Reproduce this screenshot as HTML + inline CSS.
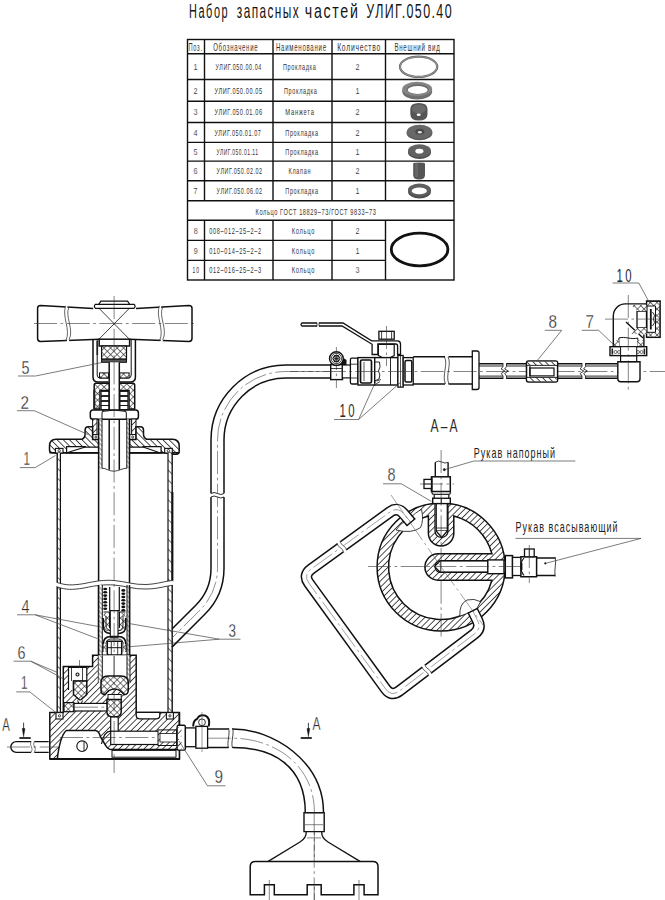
<!DOCTYPE html>
<html><head><meta charset="utf-8"><style>
html,body{margin:0;padding:0;background:#fff;}
svg{display:block;}
text{font-family:"Liberation Sans", sans-serif;}
text.big{stroke:#fff; stroke-width:0.3px;}
text.sm{stroke:#fff; stroke-width:0.12px;}
text.bign{}
text.smn{}
</style></head><body>
<svg width="665" height="900" viewBox="0 0 665 900">
<defs>
<pattern id="hs" patternUnits="userSpaceOnUse" width="4.4" height="4.4" patternTransform="rotate(45)">
<rect width="4.4" height="4.4" fill="#fff"/><line x1="2.2" y1="0" x2="2.2" y2="4.4" stroke="#222" stroke-width="0.8"/></pattern>
<pattern id="hs2" patternUnits="userSpaceOnUse" width="3.4" height="3.4" patternTransform="rotate(-45)">
<rect width="3.4" height="3.4" fill="#fff"/><line x1="1.7" y1="0" x2="1.7" y2="3.4" stroke="#333" stroke-width="0.6"/></pattern>
<pattern id="hb" patternUnits="userSpaceOnUse" width="4.4" height="4.4" patternTransform="rotate(-45)">
<rect width="4.4" height="4.4" fill="#fff"/><line x1="2.2" y1="0" x2="2.2" y2="4.4" stroke="#222" stroke-width="0.8"/></pattern>
<pattern id="hw" patternUnits="userSpaceOnUse" width="7" height="7" patternTransform="rotate(-45)">
<rect width="7" height="7" fill="#fff"/><line x1="3.5" y1="0" x2="3.5" y2="7" stroke="#333" stroke-width="0.7"/></pattern>
<pattern id="xh" patternUnits="userSpaceOnUse" width="4.6" height="4.6" patternTransform="rotate(45)">
<rect width="4.6" height="4.6" fill="#fff"/><line x1="2.3" y1="0" x2="2.3" y2="4.6" stroke="#222" stroke-width="0.6"/><line x1="0" y1="2.3" x2="4.6" y2="2.3" stroke="#222" stroke-width="0.6"/></pattern>
</defs>
<rect width="665" height="900" fill="#fff"/>
<g transform="translate(189 18.4) scale(0.5526 1)"><text class="bign" x="0" y="0" font-size="19.8" text-anchor="start" fill="#151515" textLength="69.85" lengthAdjust="spacing" >Набор</text></g>
<g transform="translate(236.8 18.4) scale(0.5991 1)"><text class="bign" x="0" y="0" font-size="19.8" text-anchor="start" fill="#151515" textLength="103.32" lengthAdjust="spacing" >запасных</text></g>
<g transform="translate(304.8 18.4) scale(0.7178 1)"><text class="bign" x="0" y="0" font-size="19.8" text-anchor="start" fill="#151515" textLength="73.98" lengthAdjust="spacing" >частей</text></g>
<g transform="translate(366.3 18.4) scale(0.6312 1)"><text class="bign" x="0" y="0" font-size="19.8" text-anchor="start" fill="#151515" textLength="135.13" lengthAdjust="spacing" >УЛИГ.050.40</text></g>
<rect x="187.5" y="39.5" width="266.5" height="240.5" fill="none" stroke="#111" stroke-width="1.4"/>
<line x1="187.5" y1="53.7" x2="454" y2="53.7" stroke="#111" stroke-width="1.4" />
<line x1="187.5" y1="79.5" x2="454" y2="79.5" stroke="#111" stroke-width="1.4" />
<line x1="187.5" y1="101.2" x2="454" y2="101.2" stroke="#111" stroke-width="1.4" />
<line x1="187.5" y1="122.5" x2="454" y2="122.5" stroke="#111" stroke-width="1.4" />
<line x1="187.5" y1="142.4" x2="454" y2="142.4" stroke="#111" stroke-width="1.4" />
<line x1="187.5" y1="161.1" x2="454" y2="161.1" stroke="#111" stroke-width="1.4" />
<line x1="187.5" y1="180.8" x2="454" y2="180.8" stroke="#111" stroke-width="1.4" />
<line x1="187.5" y1="200.7" x2="454" y2="200.7" stroke="#111" stroke-width="1.4" />
<line x1="187.5" y1="220.2" x2="454" y2="220.2" stroke="#111" stroke-width="1.4" />
<line x1="187.5" y1="240.4" x2="385.5" y2="240.4" stroke="#111" stroke-width="1.4" />
<line x1="187.5" y1="260.4" x2="385.5" y2="260.4" stroke="#111" stroke-width="1.4" />
<line x1="204.5" y1="39.5" x2="204.5" y2="200.7" stroke="#111" stroke-width="1.4" />
<line x1="204.5" y1="220.2" x2="204.5" y2="280" stroke="#111" stroke-width="1.4" />
<line x1="273" y1="39.5" x2="273" y2="200.7" stroke="#111" stroke-width="1.4" />
<line x1="273" y1="220.2" x2="273" y2="280" stroke="#111" stroke-width="1.4" />
<line x1="332" y1="39.5" x2="332" y2="200.7" stroke="#111" stroke-width="1.4" />
<line x1="332" y1="220.2" x2="332" y2="280" stroke="#111" stroke-width="1.4" />
<line x1="385.5" y1="39.5" x2="385.5" y2="200.7" stroke="#111" stroke-width="1.4" />
<line x1="385.5" y1="220.2" x2="385.5" y2="280" stroke="#111" stroke-width="1.4" />
<g transform="translate(188.4 51.3) scale(0.5440 1)"><text class="smn" x="0" y="0" font-size="10.5" text-anchor="start" fill="#333" textLength="25.00" lengthAdjust="spacing" >Поз.</text></g>
<g transform="translate(213.2 51.3) scale(0.5744 1)"><text class="smn" x="0" y="0" font-size="10.5" text-anchor="start" fill="#333" textLength="77.30" lengthAdjust="spacing" >Обозначение</text></g>
<g transform="translate(276 51.3) scale(0.5771 1)"><text class="smn" x="0" y="0" font-size="10.5" text-anchor="start" fill="#333" textLength="86.65" lengthAdjust="spacing" >Наименование</text></g>
<g transform="translate(337.2 51.3) scale(0.6406 1)"><text class="smn" x="0" y="0" font-size="10.5" text-anchor="start" fill="#333" textLength="67.12" lengthAdjust="spacing" >Количество</text></g>
<g transform="translate(394.4 51.3) scale(0.5873 1)"><text class="smn" x="0" y="0" font-size="10.5" text-anchor="start" fill="#333" textLength="77.47" lengthAdjust="spacing" >Внешний вид</text></g>
<text class="sm" x="195.6" y="69.8" font-size="9.2" text-anchor="middle" fill="#333" textLength="4" lengthAdjust="spacingAndGlyphs" >1</text>
<g transform="translate(215.5 69.8) scale(0.5858 1)"><text class="smn" x="0" y="0" font-size="9.2" text-anchor="start" fill="#333" textLength="78.01" lengthAdjust="spacing" >УЛИГ.050.00.04</text></g>
<g transform="translate(283 69.8) scale(0.5968 1)"><text class="smn" x="0" y="0" font-size="9.2" text-anchor="start" fill="#333" textLength="54.96" lengthAdjust="spacing" >Прокладка</text></g>
<text class="sm" x="357.5" y="69.8" font-size="9.2" text-anchor="middle" fill="#333" textLength="4" lengthAdjust="spacingAndGlyphs" >2</text>
<text class="sm" x="195.6" y="93.55" font-size="9.2" text-anchor="middle" fill="#333" textLength="4" lengthAdjust="spacingAndGlyphs" >2</text>
<g transform="translate(214.5 93.55) scale(0.6102 1)"><text class="smn" x="0" y="0" font-size="9.2" text-anchor="start" fill="#333" textLength="78.01" lengthAdjust="spacing" >УЛИГ.050.00.05</text></g>
<g transform="translate(284 93.55) scale(0.5968 1)"><text class="smn" x="0" y="0" font-size="9.2" text-anchor="start" fill="#333" textLength="54.96" lengthAdjust="spacing" >Прокладка</text></g>
<text class="sm" x="357.5" y="93.55" font-size="9.2" text-anchor="middle" fill="#333" textLength="4" lengthAdjust="spacingAndGlyphs" >1</text>
<text class="sm" x="195.6" y="115.05" font-size="9.2" text-anchor="middle" fill="#333" textLength="4" lengthAdjust="spacingAndGlyphs" >3</text>
<g transform="translate(214.5 115.05) scale(0.6089 1)"><text class="smn" x="0" y="0" font-size="9.2" text-anchor="start" fill="#333" textLength="78.01" lengthAdjust="spacing" >УЛИГ.050.01.06</text></g>
<g transform="translate(285.3 115.05) scale(0.6297 1)"><text class="smn" x="0" y="0" font-size="9.2" text-anchor="start" fill="#333" textLength="45.42" lengthAdjust="spacing" >Манжета</text></g>
<text class="sm" x="357.5" y="115.05" font-size="9.2" text-anchor="middle" fill="#333" textLength="4" lengthAdjust="spacingAndGlyphs" >2</text>
<text class="sm" x="195.6" y="135.64999999999998" font-size="9.2" text-anchor="middle" fill="#333" textLength="4" lengthAdjust="spacingAndGlyphs" >4</text>
<g transform="translate(214.5 135.64999999999998) scale(0.5935 1)"><text class="smn" x="0" y="0" font-size="9.2" text-anchor="start" fill="#333" textLength="78.01" lengthAdjust="spacing" >УЛИГ.050.01.07</text></g>
<g transform="translate(285.3 135.64999999999998) scale(0.5950 1)"><text class="smn" x="0" y="0" font-size="9.2" text-anchor="start" fill="#333" textLength="54.96" lengthAdjust="spacing" >Прокладка</text></g>
<text class="sm" x="357.5" y="135.64999999999998" font-size="9.2" text-anchor="middle" fill="#333" textLength="4" lengthAdjust="spacingAndGlyphs" >2</text>
<text class="sm" x="195.6" y="154.95" font-size="9.2" text-anchor="middle" fill="#333" textLength="4" lengthAdjust="spacingAndGlyphs" >5</text>
<g transform="translate(216.6 154.95) scale(0.5350 1)"><text class="smn" x="0" y="0" font-size="9.2" text-anchor="start" fill="#333" textLength="77.20" lengthAdjust="spacing" >УЛИГ.050.01.11</text></g>
<g transform="translate(285.3 154.95) scale(0.5950 1)"><text class="smn" x="0" y="0" font-size="9.2" text-anchor="start" fill="#333" textLength="54.96" lengthAdjust="spacing" >Прокладка</text></g>
<text class="sm" x="357.5" y="154.95" font-size="9.2" text-anchor="middle" fill="#333" textLength="4" lengthAdjust="spacingAndGlyphs" >1</text>
<text class="sm" x="195.6" y="174.14999999999998" font-size="9.2" text-anchor="middle" fill="#333" textLength="4" lengthAdjust="spacingAndGlyphs" >6</text>
<g transform="translate(216.6 174.14999999999998) scale(0.5832 1)"><text class="smn" x="0" y="0" font-size="9.2" text-anchor="start" fill="#333" textLength="78.01" lengthAdjust="spacing" >УЛИГ.050.02.02</text></g>
<g transform="translate(288.6 174.14999999999998) scale(0.5930 1)"><text class="smn" x="0" y="0" font-size="9.2" text-anchor="start" fill="#333" textLength="36.93" lengthAdjust="spacing" >Клапан</text></g>
<text class="sm" x="357.5" y="174.14999999999998" font-size="9.2" text-anchor="middle" fill="#333" textLength="4" lengthAdjust="spacingAndGlyphs" >2</text>
<text class="sm" x="195.6" y="193.95" font-size="9.2" text-anchor="middle" fill="#333" textLength="4" lengthAdjust="spacingAndGlyphs" >7</text>
<g transform="translate(216.6 193.95) scale(0.5832 1)"><text class="smn" x="0" y="0" font-size="9.2" text-anchor="start" fill="#333" textLength="78.01" lengthAdjust="spacing" >УЛИГ.050.06.02</text></g>
<g transform="translate(285.3 193.95) scale(0.5950 1)"><text class="smn" x="0" y="0" font-size="9.2" text-anchor="start" fill="#333" textLength="54.96" lengthAdjust="spacing" >Прокладка</text></g>
<text class="sm" x="357.5" y="193.95" font-size="9.2" text-anchor="middle" fill="#333" textLength="4" lengthAdjust="spacingAndGlyphs" >1</text>
<g transform="translate(255.5 214.7) scale(0.6130 1)"><text class="smn" x="0" y="0" font-size="9.2" text-anchor="start" fill="#333" textLength="196.24" lengthAdjust="spacing" >Кольцо ГОСТ 18829–73/ГОСТ 9833–73</text></g>
<text class="sm" x="195.8" y="233.5" font-size="9.2" text-anchor="middle" fill="#333" textLength="4" lengthAdjust="spacingAndGlyphs" >8</text>
<g transform="translate(209.2 233.5) scale(0.6075 1)"><text class="smn" x="0" y="0" font-size="9.2" text-anchor="start" fill="#333" textLength="85.27" lengthAdjust="spacing" >008–012–25–2–2</text></g>
<g transform="translate(291.7 233.5) scale(0.6181 1)"><text class="smn" x="0" y="0" font-size="9.2" text-anchor="start" fill="#333" textLength="36.57" lengthAdjust="spacing" >Кольцо</text></g>
<text class="sm" x="357.5" y="233.5" font-size="9.2" text-anchor="middle" fill="#333" textLength="4" lengthAdjust="spacingAndGlyphs" >2</text>
<text class="sm" x="195.8" y="253.59999999999997" font-size="9.2" text-anchor="middle" fill="#333" textLength="4" lengthAdjust="spacingAndGlyphs" >9</text>
<g transform="translate(209.2 253.59999999999997) scale(0.6075 1)"><text class="smn" x="0" y="0" font-size="9.2" text-anchor="start" fill="#333" textLength="85.27" lengthAdjust="spacing" >010–014–25–2–2</text></g>
<g transform="translate(291.7 253.59999999999997) scale(0.6181 1)"><text class="smn" x="0" y="0" font-size="9.2" text-anchor="start" fill="#333" textLength="36.57" lengthAdjust="spacing" >Кольцо</text></g>
<text class="sm" x="357.5" y="253.59999999999997" font-size="9.2" text-anchor="middle" fill="#333" textLength="4" lengthAdjust="spacingAndGlyphs" >1</text>
<g transform="translate(195.8 273.4) scale(0.5336 1)"><text class="smn" x="0" y="0" font-size="9.2" text-anchor="middle" fill="#333" textLength="12.18" lengthAdjust="spacing" >10</text></g>
<g transform="translate(209.2 273.4) scale(0.6075 1)"><text class="smn" x="0" y="0" font-size="9.2" text-anchor="start" fill="#333" textLength="85.27" lengthAdjust="spacing" >012–016–25–2–3</text></g>
<g transform="translate(291.7 273.4) scale(0.6181 1)"><text class="smn" x="0" y="0" font-size="9.2" text-anchor="start" fill="#333" textLength="36.57" lengthAdjust="spacing" >Кольцо</text></g>
<text class="sm" x="357.5" y="273.4" font-size="9.2" text-anchor="middle" fill="#333" textLength="4" lengthAdjust="spacingAndGlyphs" >3</text>
<g>
<ellipse cx="418.6" cy="66.8" rx="18.6" ry="10.1" fill="none" stroke="#666" stroke-width="2.2"/><ellipse cx="418.6" cy="66.8" rx="18.6" ry="10.1" fill="none" stroke="#999" stroke-width="1"/>
<ellipse cx="417.2" cy="91.5" rx="15" ry="8" fill="#6e6e6e"/>
<ellipse cx="417.2" cy="89" rx="15" ry="7.2" fill="#858585"/>
<ellipse cx="417.7" cy="89.2" rx="11" ry="5" fill="#6a6a6a"/>
<ellipse cx="417.7" cy="90" rx="10" ry="3.9" fill="#fff"/>
<path d="M410.3 109 Q410.3 103 418.9 103 Q427.5 103 427.5 109 L427.5 114 Q427.5 120.6 418.9 120.6 Q410.3 120.6 410.3 114 Z" fill="#555"/>
<ellipse cx="418.9" cy="109" rx="7" ry="4.5" fill="#6a6a6a"/>
<ellipse cx="418.7" cy="114.8" rx="2" ry="1.2" fill="#fff"/>
<ellipse cx="419.5" cy="132.8" rx="13" ry="7.5" fill="#5a5a5a"/>
<ellipse cx="419.5" cy="131.8" rx="12.5" ry="7" fill="#686868"/>
<ellipse cx="419.8" cy="131.8" rx="4.5" ry="3" fill="#4a4a4a"/>
<ellipse cx="419.8" cy="132.3" rx="2.2" ry="1.2" fill="#ddd"/>
<ellipse cx="419.5" cy="152.5" rx="11.5" ry="6.5" fill="#4e4e4e"/>
<ellipse cx="419.5" cy="150.8" rx="11.5" ry="6.5" fill="#626262"/>
<ellipse cx="419.4" cy="151.2" rx="4" ry="2.4" fill="#fff"/>
<path d="M413.2 163.5 Q413.2 162.5 419.1 162.5 Q425 162.5 425 163.5 L425 175 Q425 179.5 419.1 179.5 Q413.2 179.5 413.2 175 Z" fill="#555"/>
<rect x="415" y="163" width="3" height="14" fill="#666"/>
<ellipse cx="419.5" cy="191.5" rx="11.5" ry="7" fill="#4e4e4e"/>
<ellipse cx="419.5" cy="190" rx="11.5" ry="6.5" fill="#5e5e5e"/>
<ellipse cx="419.3" cy="190.9" rx="7.6" ry="3.3" fill="#fff"/>
<ellipse cx="419.6" cy="249.5" rx="28.3" ry="16.3" fill="none" stroke="#111" stroke-width="2.8"/>
</g>
<path d="M93.2 308.4 L40.5 305.4 Q37.6 305.4 37.6 308.3 L37.6 338.5 Q37.6 341.4 40.5 341.4 L99.2 339.2" fill="#fff" stroke="#111" stroke-width="1.5" />
<path d="M136 308.4 L189 305.4 Q192 305.4 192 308.3 L192 338.5 Q192 341.4 189 341.4 L129.6 339.2" fill="#fff" stroke="#111" stroke-width="1.5" />
<path d="M66.3 303 C61.3 316, 71.3 330, 66.3 343 L68.5 343 C73.5 330, 63.5 316, 68.5 303 Z" fill="#fff"/>
<path d="M65.8 305.8 C61.3 316, 71.3 330, 65.8 340.8" fill="none" stroke="#333" stroke-width="0.75" />
<path d="M69.0 307.1 C64.5 316, 74.5 330, 69.0 339.8" fill="none" stroke="#333" stroke-width="0.75" />
<path d="M160.0 303 C155.0 316, 165.0 330, 160.0 343 L162.2 343 C167.2 330, 157.2 316, 162.2 303 Z" fill="#fff"/>
<path d="M159.5 305.8 C155.0 316, 165.0 330, 159.5 340.8" fill="none" stroke="#333" stroke-width="0.75" />
<path d="M162.7 307.1 C158.2 316, 168.2 330, 162.7 339.8" fill="none" stroke="#333" stroke-width="0.75" />
<line x1="99.20" y1="308.50" x2="129.20" y2="339.00" stroke="#111" stroke-width="0.8" />
<line x1="129.20" y1="308.50" x2="99.20" y2="339.00" stroke="#111" stroke-width="0.8" />
<path d="M95.5 304.3 L134 304.3 Q136.2 306.3 134 308.4 L95.5 308.4 Q93.2 306.3 95.5 304.3 Z" fill="#fff" stroke="#111" stroke-width="1.2" />
<path d="M98.8 304.3 L100.8 301.2 L127.6 301.2 L129.6 304.3" fill="none" stroke="#111" stroke-width="1.2" />
<rect x="99.20" y="339.20" width="30.40" height="6.80" fill="#fff" stroke="#111" stroke-width="1.5" />
<path d="M93 339.5 L93 377 Q93 382 98 382 L108.6 382" fill="none" stroke="#111" stroke-width="1.5" />
<path d="M97.2 339.5 L97.2 375 Q97.2 378 100 378 L108.6 378" fill="none" stroke="#111" stroke-width="1.0" />
<path d="M135.4 339.5 L135.4 377 Q135.4 382 130.4 382 L119.8 382" fill="none" stroke="#111" stroke-width="1.5" />
<path d="M131.2 339.5 L131.2 375 Q131.2 378 128.4 378 L119.8 378" fill="none" stroke="#111" stroke-width="1.0" />
<rect x="96.5" y="341" width="1.6" height="14" fill="#222"/>
<rect x="101.60" y="346.00" width="24.90" height="13.20" fill="url(#xh)" stroke="#111" stroke-width="1.2" />
<rect x="101.60" y="359.20" width="24.90" height="3.10" fill="#555" stroke="#111" stroke-width="1.0" />
<rect x="99.50" y="372.90" width="9.10" height="5.10" fill="url(#xh)" stroke="#111" stroke-width="1.0" />
<rect x="119.80" y="372.90" width="9.30" height="5.10" fill="url(#xh)" stroke="#111" stroke-width="1.0" />
<path d="M94.2 409 L94.2 385 Q94.2 383.2 96 383.2 L132.9 383.2 Q134.7 383.2 134.7 385 L134.7 409 L129 409 L129 390.5 L100 390.5 L100 409 Z" fill="url(#xh)" stroke="#111" stroke-width="1.5" />
<rect x="93.3" y="390" width="2" height="19" fill="#222"/>
<rect x="101.20" y="391.50" width="7.80" height="4.00" fill="#fff" stroke="#111" stroke-width="0.9" />
<rect x="120.00" y="391.50" width="7.80" height="4.00" fill="#fff" stroke="#111" stroke-width="0.9" />
<rect x="101.20" y="396.50" width="7.80" height="4.00" fill="#fff" stroke="#111" stroke-width="0.9" />
<rect x="120.00" y="396.50" width="7.80" height="4.00" fill="#fff" stroke="#111" stroke-width="0.9" />
<rect x="101.20" y="401.50" width="7.80" height="4.00" fill="#fff" stroke="#111" stroke-width="0.9" />
<rect x="120.00" y="401.50" width="7.80" height="4.00" fill="#fff" stroke="#111" stroke-width="0.9" />
<rect x="101.20" y="405.50" width="7.80" height="4.00" fill="#fff" stroke="#111" stroke-width="0.9" />
<rect x="120.00" y="405.50" width="7.80" height="4.00" fill="#fff" stroke="#111" stroke-width="0.9" />
<rect x="109.20" y="362.30" width="10.10" height="106.70" fill="#fff" stroke="#111" stroke-width="0" />
<line x1="109.20" y1="362.30" x2="109.20" y2="469.80" stroke="#111" stroke-width="1.5" />
<line x1="119.30" y1="362.30" x2="119.30" y2="469.80" stroke="#111" stroke-width="1.5" />
<path d="M92.5 410 L136.2 410 Q138.4 410.5 138.4 413 L138.4 416.5 Q138.4 419.3 136 419.3 L92.7 419.3 Q90.3 419.3 90.3 416.5 L90.3 413 Q90.3 410.5 92.5 410 Z" fill="#fff" stroke="#111" stroke-width="1.5" />
<path d="M102 419.3 L102 413 Q102 410.6 104 410.6 M126.3 419.3 L126.3 413 Q126.3 410.6 124.3 410.6" fill="none" stroke="#111" stroke-width="1.0" />
<path d="M102.5 411.5 Q114.2 408.6 125.8 411.5" fill="none" stroke="#111" stroke-width="0.9" />
<rect x="92.60" y="419.00" width="4.40" height="15.60" fill="url(#hs)" stroke="#111" stroke-width="1.0" />
<rect x="131.60" y="419.00" width="4.40" height="15.60" fill="url(#hs)" stroke="#111" stroke-width="1.0" />
<rect x="92.60" y="434.60" width="6.60" height="4.90" fill="#fff" stroke="#111" stroke-width="1.0" />
<circle cx="95.9" cy="437" r="1.0" fill="none" stroke="#111" stroke-width="0.8"/>
<rect x="129.40" y="434.60" width="6.60" height="4.90" fill="#fff" stroke="#111" stroke-width="1.0" />
<circle cx="132.7" cy="437" r="1.0" fill="none" stroke="#111" stroke-width="0.8"/>
<path d="M49.5 446 Q49.5 439.2 56 439.2 L82 439.2 Q85.1 438 85.1 434 L85.1 430 Q85.1 426.8 88.3 426.8 L92.6 426.8 L92.6 439.5 L98.6 439.5 L98.6 452.8 L52.5 452.8 Q49.5 452.8 49.5 450 Z" fill="url(#hb)" stroke="#111" stroke-width="1.5" />
<path d="M179.2 446 Q179.2 439.2 172.7 439.2 L146.6 439.2 Q143.5 438 143.5 434 L143.5 430 Q143.5 426.8 140.3 426.8 L136 426.8 L136 439.5 L129.5 439.5 L129.5 452.8 L172.8 452.8 L172.8 454.3 L176.2 454.3 Q179.2 454.3 179.2 451.3 Z" fill="url(#hb)" stroke="#111" stroke-width="1.5" />
<path d="M66.6 452.8 L66.6 446.6 L85.3 446.6 L85.3 447.2 L98.6 447.2 L98.6 452.8 Z" fill="#fff" stroke="#111" stroke-width="1.2" />
<line x1="85.30" y1="447.00" x2="68.40" y2="452.30" stroke="#111" stroke-width="1.1" />
<path d="M161.1 452.8 L161.1 446.6 L143 446.6 L143 447.2 L129.5 447.2 L129.5 452.8 Z" fill="#fff" stroke="#111" stroke-width="1.2" />
<line x1="143.00" y1="447.00" x2="158.40" y2="452.30" stroke="#111" stroke-width="1.1" />
<line x1="49.50" y1="452.80" x2="98.60" y2="452.80" stroke="#111" stroke-width="1.5" />
<line x1="129.50" y1="452.80" x2="179.20" y2="452.80" stroke="#111" stroke-width="1.5" />
<rect x="55.40" y="448.40" width="7.60" height="4.60" fill="#fff" stroke="#111" stroke-width="1.1" />
<circle cx="59.199999999999996" cy="450.7" r="1.2" fill="none" stroke="#111" stroke-width="0.8"/>
<rect x="164.70" y="448.40" width="7.60" height="4.60" fill="#fff" stroke="#111" stroke-width="1.1" />
<circle cx="168.5" cy="450.7" r="1.2" fill="none" stroke="#111" stroke-width="0.8"/>
<rect x="57.20" y="453.00" width="3.20" height="259.40" fill="url(#hw)" stroke="#111" stroke-width="0" />
<rect x="168.00" y="453.00" width="4.20" height="259.40" fill="url(#hw)" stroke="#111" stroke-width="0" />
<line x1="57.20" y1="453.00" x2="57.20" y2="712.40" stroke="#111" stroke-width="1.4" />
<line x1="60.40" y1="453.00" x2="60.40" y2="712.40" stroke="#111" stroke-width="1.2" />
<line x1="168.00" y1="453.00" x2="168.00" y2="712.60" stroke="#111" stroke-width="1.2" />
<line x1="172.20" y1="453.00" x2="172.20" y2="712.60" stroke="#111" stroke-width="1.4" />
<rect x="171.4" y="492" width="2" height="90" fill="#111"/>
<rect x="98.60" y="419.00" width="3.40" height="49.50" fill="url(#hs2)" stroke="#111" stroke-width="0" />
<rect x="126.80" y="419.00" width="2.70" height="49.50" fill="url(#hs2)" stroke="#111" stroke-width="0" />
<line x1="98.60" y1="419.00" x2="98.60" y2="683.00" stroke="#111" stroke-width="1.5" />
<line x1="102.00" y1="419.00" x2="102.00" y2="468.50" stroke="#111" stroke-width="1.0" />
<line x1="126.80" y1="419.00" x2="126.80" y2="468.50" stroke="#111" stroke-width="1.0" />
<line x1="129.50" y1="419.00" x2="129.50" y2="683.00" stroke="#111" stroke-width="1.5" />
<path d="M102 468.2 C106 468, 109 471.5, 114.2 471.2 C119 471, 123 468, 126.8 468.2" fill="none" stroke="#111" stroke-width="0.8" />
<path d="M56 582 C66 585.5, 72 585.5, 84 583.6 C96 581, 104 579.8, 114 580.5 C126 581.5, 134 585, 146 584.5 C158 584, 165 581, 173.5 580.3 L173.5 585.3 C165 586, 158 589, 146 589 C134 589.5, 126 586, 114 585 C104 584.3, 96 585.5, 84 588 C72 590, 66 590, 56 586.5 Z" fill="#fff"/>
<path d="M56.5 582.3 C66 585.5, 72 585.5, 84 583.6 C96 581, 104 579.8, 114 580.5 C126 581.5, 134 585, 146 584.5 C158 584, 165 581, 173 580.5" fill="none" stroke="#111" stroke-width="0.8" />
<path d="M56.5 586.7 C66 590, 72 590, 84 588 C96 585.5, 104 584.3, 114 585 C126 586, 134 589.5, 146 589 C158 589, 165 586, 173 585.3" fill="none" stroke="#111" stroke-width="0.8" />
<rect x="98.60" y="585.00" width="3.70" height="98.00" fill="url(#hs2)" stroke="#111" stroke-width="0" />
<rect x="127.00" y="585.00" width="2.50" height="98.00" fill="url(#hs2)" stroke="#111" stroke-width="0" />
<line x1="98.60" y1="585.00" x2="98.60" y2="683.00" stroke="#111" stroke-width="1.5" />
<line x1="102.30" y1="585.00" x2="102.30" y2="683.00" stroke="#111" stroke-width="1.0" />
<line x1="127.00" y1="585.00" x2="127.00" y2="683.00" stroke="#111" stroke-width="1.0" />
<line x1="129.50" y1="585.00" x2="129.50" y2="683.00" stroke="#111" stroke-width="1.5" />
<path d="M109.7 587 L109.7 610.7 L119.3 610.7 L119.3 587" fill="#fff" stroke="#111" stroke-width="1.2" />
<ellipse cx="105.2" cy="589.0" rx="2" ry="1.3" fill="#111"/>
<ellipse cx="123.3" cy="590.4" rx="2" ry="1.3" fill="#111"/>
<ellipse cx="105.2" cy="592.3" rx="2" ry="1.3" fill="#111"/>
<ellipse cx="123.3" cy="593.6999999999999" rx="2" ry="1.3" fill="#111"/>
<ellipse cx="105.2" cy="595.6" rx="2" ry="1.3" fill="#111"/>
<ellipse cx="123.3" cy="597.0" rx="2" ry="1.3" fill="#111"/>
<ellipse cx="105.2" cy="598.9" rx="2" ry="1.3" fill="#111"/>
<ellipse cx="123.3" cy="600.3" rx="2" ry="1.3" fill="#111"/>
<ellipse cx="105.2" cy="602.2" rx="2" ry="1.3" fill="#111"/>
<ellipse cx="123.3" cy="603.6" rx="2" ry="1.3" fill="#111"/>
<ellipse cx="105.2" cy="605.5" rx="2" ry="1.3" fill="#111"/>
<ellipse cx="123.3" cy="606.9" rx="2" ry="1.3" fill="#111"/>
<ellipse cx="105.2" cy="608.8" rx="2" ry="1.3" fill="#111"/>
<ellipse cx="123.3" cy="610.1999999999999" rx="2" ry="1.3" fill="#111"/>
<path d="M103.5 612 L109.5 612 L109.5 628 M119.5 628 L119.5 612 L125.5 612" fill="none" stroke="#111" stroke-width="1.2" />
<path d="M104 613 L109 613 L109 627 Q109 630 112 631 L104.5 631 Q103 626 103 620 Z" fill="url(#xh)"/>
<path d="M125 613 L120 613 L120 627 Q120 630 117 631 L124.5 631 Q126 626 126 620 Z" fill="url(#xh)"/>
<path d="M103.3 618 L103.3 626 Q103.3 633 110 633.5 L119 633.5 Q125.8 633 125.8 626 L125.8 618" fill="none" stroke="#111" stroke-width="1.6" />
<path d="M106 616 L106 625 Q106 630 111 631" fill="none" stroke="#111" stroke-width="0.9" />
<path d="M123 616 L123 625 Q123 630 118 631" fill="none" stroke="#111" stroke-width="0.9" />
<rect x="110.30" y="610.70" width="7.70" height="26.60" fill="#fff" stroke="#111" stroke-width="1.1" />
<path d="M103.3 652 L103.3 644 Q103.3 636.5 111 636.5 L118.3 636.5 Q125.8 636.5 125.8 644 L125.8 652" fill="none" stroke="#111" stroke-width="1.7" />
<path d="M105.8 652 L105.8 645 Q105.8 639 111 639 L118.3 639 Q123.3 639 123.3 645 L123.3 652" fill="none" stroke="#111" stroke-width="0.9" />
<rect x="103.5" y="644" width="2.2" height="8" fill="url(#xh)"/><rect x="123.4" y="644" width="2.2" height="8" fill="url(#xh)"/>
<path d="M107.3 641.3 L121.7 641.3 L121.7 653.5 Q121.7 655.3 119.5 655.3 L109.5 655.3 Q107.3 655.3 107.3 653.5 Z" fill="#fff" stroke="#111" stroke-width="1.5" />
<line x1="107.30" y1="647.70" x2="121.70" y2="647.70" stroke="#111" stroke-width="1.0" />
<line x1="111.30" y1="641.30" x2="111.30" y2="655.30" stroke="#111" stroke-width="0.8" />
<line x1="117.70" y1="641.30" x2="117.70" y2="655.30" stroke="#111" stroke-width="0.8" />
<path d="M49.8 712.4 L63.3 712.4 L63.3 666.5 L92.6 666.5 L92.6 655.3 L136.2 655.3 L136.2 712.4 L179.4 712.4 L179.4 759 L49.8 759 Z" fill="url(#hs)" stroke="#111" stroke-width="1.5" />
<rect x="98.60" y="655.30" width="31.10" height="20.70" fill="#fff" stroke="#111" stroke-width="0" />
<line x1="98.60" y1="655.30" x2="98.60" y2="683.00" stroke="#111" stroke-width="1.5" />
<line x1="129.70" y1="655.30" x2="129.70" y2="683.00" stroke="#111" stroke-width="1.5" />
<rect x="102.30" y="656.00" width="24.70" height="20.00" fill="#fff" stroke="#111" stroke-width="0.0" />
<line x1="114.10" y1="656.00" x2="114.10" y2="676.00" stroke="#333" stroke-width="0.6" stroke-dasharray="23 3.5 2.7 3.5"/>
<rect x="98.60" y="655.30" width="3.70" height="27.70" fill="url(#hs2)" stroke="#111" stroke-width="0" />
<rect x="127.00" y="655.30" width="2.50" height="27.70" fill="url(#hs2)" stroke="#111" stroke-width="0" />
<line x1="102.30" y1="655.30" x2="102.30" y2="683.00" stroke="#111" stroke-width="1.0" />
<line x1="127.00" y1="655.30" x2="127.00" y2="683.00" stroke="#111" stroke-width="1.0" />
<path d="M101 690 L101 683 Q101 676 108 676 L121 676 Q128.3 676 128.3 683 L128.3 690 Q128.3 694.7 124 694.7 Q120 689 114.6 689 Q109 689 105 694.7 Q101 694.7 101 690 Z" fill="url(#xh)" stroke="#111" stroke-width="1.5" />
<rect x="108.00" y="694.50" width="13.20" height="5.10" fill="#fff" stroke="#111" stroke-width="1.0" />
<path d="M106.9 699.6 L121.2 699.6 L121.2 712 Q121.2 717 114 717 Q106.9 717 106.9 712 Z" fill="url(#xh)" stroke="#111" stroke-width="1.5" />
<rect x="110.70" y="717.00" width="7.50" height="15.00" fill="#fff" stroke="#111" stroke-width="1.2" />
<path d="M68.5 690 L68.5 667.4 L86.8 667.4 L86.8 681 L73.5 681 L73.5 690" fill="#fff" stroke="#111" stroke-width="1.2" />
<line x1="71.50" y1="667.40" x2="71.50" y2="681.00" stroke="#111" stroke-width="0.8" />
<line x1="82.50" y1="667.40" x2="82.50" y2="681.00" stroke="#111" stroke-width="0.8" />
<circle cx="77.5" cy="674.5" r="1.5" fill="none" stroke="#111" stroke-width="1.1"/>
<line x1="79.50" y1="660.00" x2="79.50" y2="668.00" stroke="#333" stroke-width="0.6" stroke-dasharray="23 3.5 2.7 3.5"/>
<path d="M73.5 681 L86.8 681 L86.8 694.5 L80.1 700.5 L73.5 694.5 Z" fill="url(#xh)" stroke="#111" stroke-width="1.5" />
<path d="M77.5 700.5 L80.1 705.5 L82.7 700.5" fill="#fff" stroke="#111" stroke-width="1.0" />
<rect x="73.80" y="703.40" width="33.10" height="7.60" fill="#fff" stroke="#111" stroke-width="1.2" />
<line x1="75.00" y1="707.20" x2="106.00" y2="707.20" stroke="#333" stroke-width="0.6" stroke-dasharray="23 3.5 2.7 3.5"/>
<rect x="64.00" y="702.60" width="9.80" height="9.10" fill="url(#xh)" stroke="#111" stroke-width="1.2" />
<path d="M136.2 712.4 L159.8 712.4 L159.8 715.5 Q159.8 718.9 156 718.9 L140 718.9 Q136.2 718.9 136.2 715 Z" fill="#fff" stroke="#111" stroke-width="1.3" />
<rect x="56.00" y="712.60" width="7.00" height="6.40" fill="#fff" stroke="#111" stroke-width="1.1" />
<circle cx="59.5" cy="715.8" r="1.1" fill="none" stroke="#111" stroke-width="0.8"/>
<rect x="166.40" y="712.60" width="7.00" height="6.40" fill="#fff" stroke="#111" stroke-width="1.1" />
<circle cx="169.9" cy="715.8" r="1.1" fill="none" stroke="#111" stroke-width="0.8"/>
<path d="M57.3 759 Q60 736 66.3 730.5 L95.6 730.5 Q99 731 100.5 737 L106 746 Q108 749.5 112 749.5 L179.4 749.5 L179.4 759 Z" fill="#fff" stroke="#111" stroke-width="1.5" />
<circle cx="82.1" cy="746.2" r="5.3" fill="#fff" stroke="#111" stroke-width="1.1"/>
<line x1="84.00" y1="741.40" x2="84.00" y2="751.00" stroke="#111" stroke-width="0.9" />
<rect x="110.70" y="731.20" width="68.70" height="13.30" fill="#fff" stroke="#111" stroke-width="1.2" />
<path d="M101.5 744 Q104 731.2 110.7 731.2" fill="none" stroke="#111" stroke-width="1.2" />
<rect x="112.00" y="750.40" width="64.00" height="6.80" fill="#fff" stroke="#111" stroke-width="1.0" />
<line x1="49.80" y1="759.00" x2="179.40" y2="759.00" stroke="#111" stroke-width="2.2" />
<line x1="60.00" y1="737.50" x2="178.00" y2="737.50" stroke="#333" stroke-width="0.6" stroke-dasharray="23 3.5 2.7 3.5"/>
<rect x="158.00" y="729.90" width="18.50" height="15.60" fill="url(#hs)" stroke="#111" stroke-width="1.0" />
<rect x="160.00" y="733.50" width="16.50" height="8.50" fill="#fff" stroke="#111" stroke-width="0.8" />
<path d="M48.7 741.6 L34.3 741.6 M31.1 741.6 L16.2 741.6 A5.4 5.4 0 0 0 16.2 752.4 L31.1 752.4 M34.3 752.4 L48.7 752.4" fill="none" stroke="#111" stroke-width="1.4" />
<path d="M31.1 741.6 Q29.5 744 31.5 747 Q33 749.5 31.1 752.4 M34.3 741.6 Q32.7 744 34.7 747 Q36.2 749.5 34.3 752.4" fill="none" stroke="#444" stroke-width="0.7" />
<line x1="7.00" y1="747.00" x2="58.00" y2="747.00" stroke="#333" stroke-width="0.6" stroke-dasharray="23 3.5 2.7 3.5"/>
<path d="M179.4 712.4 L179.4 725.3" fill="none" stroke="#111" stroke-width="1.5" />
<path d="M178.5 725.3 L184 725.3 Q185.4 725.3 185.4 727 L185.4 748.4 Q185.4 750.1 184 750.1 L178.5 750.1 Q177.1 750.1 177.1 748.4 L177.1 727 Q177.1 725.3 178.5 725.3 Z" fill="#fff" stroke="#111" stroke-width="1.4" />
<rect x="178.00" y="727.00" width="3.50" height="9.50" fill="url(#hs)" stroke="#111" stroke-width="0" />
<rect x="178.00" y="739.00" width="3.50" height="10.00" fill="url(#hs)" stroke="#111" stroke-width="0" />
<rect x="185.40" y="727.90" width="10.50" height="18.80" fill="#fff" stroke="#111" stroke-width="1.3" />
<path d="M193.2 726.4 Q193.2 720.5 197 719 Q199 715.2 202.5 715.2 Q208.8 715.2 209.2 722 L208.8 726.4" fill="#fff" stroke="#111" stroke-width="2.0" />
<circle cx="202" cy="722.3" r="3.4" fill="#fff" stroke="#111" stroke-width="0.9"/>
<rect x="195.90" y="726.40" width="11.70" height="21.80" fill="#fff" stroke="#111" stroke-width="1.3" />
<line x1="202.00" y1="712.00" x2="202.00" y2="752.00" stroke="#555" stroke-width="0.6" />
<text class="big" x="21.5" y="374" font-size="19" fill="#2a2a2a" textLength="8" lengthAdjust="spacingAndGlyphs">5</text>
<path d="M18.00 376.00 L35.50 376.00 L102.00 362.50" fill="none" stroke="#444" stroke-width="0.7" />
<text class="big" x="20.5" y="408.6" font-size="19" fill="#2a2a2a" textLength="8.5" lengthAdjust="spacingAndGlyphs">2</text>
<path d="M17.00 410.70 L34.30 410.70 L88.40 434.70" fill="none" stroke="#444" stroke-width="0.7" />
<text class="big" x="23.5" y="465.4" font-size="19" fill="#2a2a2a" textLength="6.5" lengthAdjust="spacingAndGlyphs">1</text>
<path d="M19.80 467.60 L35.20 467.60 L55.50 455.50" fill="none" stroke="#444" stroke-width="0.7" />
<text class="big" x="21.5" y="612.5" font-size="19" fill="#2a2a2a" textLength="8" lengthAdjust="spacingAndGlyphs">4</text>
<path d="M17.00 614.80 L35.20 614.80 L98.30 626.50" fill="none" stroke="#444" stroke-width="0.7" />
<path d="M35.20 614.80 L97.40 638.60" fill="none" stroke="#444" stroke-width="0.7" />
<text class="big" x="17.5" y="658.5" font-size="19" fill="#2a2a2a" textLength="8" lengthAdjust="spacingAndGlyphs">6</text>
<path d="M13.50 661.20 L30.70 661.20 L57.00 672.30" fill="none" stroke="#444" stroke-width="0.7" />
<path d="M30.70 661.20 L63.50 678.80" fill="none" stroke="#444" stroke-width="0.7" />
<text class="big" x="21" y="689.2" font-size="19" fill="#2a2a2a" textLength="6.5" lengthAdjust="spacingAndGlyphs">1</text>
<path d="M16.20 691.90 L29.80 691.90 L56.00 712.60" fill="none" stroke="#444" stroke-width="0.7" />
<text class="big" x="2.3" y="730.7" font-size="19" fill="#2a2a2a" textLength="7.6" lengthAdjust="spacingAndGlyphs">A</text>
<line x1="23.60" y1="722.60" x2="23.60" y2="732.00" stroke="#111" stroke-width="0.8" />
<path d="M22.2 728.5 L23.6 736.8 L25 728.5 Z" fill="#111" stroke="#111" stroke-width="0.4" />
<line x1="19.40" y1="738.00" x2="30.70" y2="738.00" stroke="#111" stroke-width="1.7" />
<text class="big" x="228.6" y="636.6" font-size="19" fill="#2a2a2a" textLength="7.5" lengthAdjust="spacingAndGlyphs">3</text>
<path d="M240.50 639.20 L219.40 639.20 L130.00 623.70" fill="none" stroke="#444" stroke-width="0.7" />
<path d="M219.40 639.20 L130.00 646.70" fill="none" stroke="#444" stroke-width="0.7" />
<text class="big" x="214.5" y="783.3" font-size="19" fill="#2a2a2a" textLength="8.5" lengthAdjust="spacingAndGlyphs">9</text>
<path d="M225.50 785.80 L207.50 785.80 L179.00 741.00" fill="none" stroke="#444" stroke-width="0.7" />
<line x1="114.10" y1="296.00" x2="114.10" y2="773.00" stroke="#333" stroke-width="0.6" stroke-dasharray="23 3.5 2.7 3.5"/>
<line x1="34.00" y1="323.50" x2="196.00" y2="323.50" stroke="#333" stroke-width="0.6" stroke-dasharray="23 3.5 2.7 3.5"/>
<path d="M331 365 L286 365 A75 75 0 0 0 211 440 L211 568.5 A52 52 0 0 1 195.77 605.27 L172 629" fill="none" stroke="#111" stroke-width="1.5" />
<path d="M331 378 L286 378 A62 62 0 0 0 224 440 L224 568.5 A64.8 64.8 0 0 1 204.82 614.32 L172 647.1" fill="none" stroke="#111" stroke-width="1.5" />
<path d="M331 371.5 L286 371.5 A68.5 68.5 0 0 0 217.5 440 L217.5 568.5 A58.4 58.4 0 0 1 200.30 609.80 L172 638" fill="none" stroke="#444" stroke-width="0.6" stroke-dasharray="23 3.5 2.7 3.5"/>
<rect x="209" y="493.3" width="17" height="3.8" fill="#fff"/>
<path d="M211 493.5 Q214 491.5 217.5 493.5 Q221 495.5 224 493.5" fill="none" stroke="#111" stroke-width="0.9" />
<path d="M211 497 Q214 495 217.5 497 Q221 499 224 497" fill="none" stroke="#111" stroke-width="0.9" />
<path d="M302 323 L343 323 L371.6 340.8 L397.5 340.8 Q400.5 340.8 400.5 344 L400.5 354.5 L397.6 354.5 L397.6 346 Q397.6 344 395.6 344 L377.9 344 L377.9 354.5 L372.1 354.5 L372.1 344.3 L342 326 L302 326 Q300 324.5 302 323 Z" fill="#fff" stroke="#111" stroke-width="1.3" />
<rect x="317" y="321" width="2" height="7" fill="#fff"/>
<line x1="317.00" y1="322.70" x2="317.00" y2="326.30" stroke="#111" stroke-width="0.7" />
<line x1="319.00" y1="322.70" x2="319.00" y2="326.30" stroke="#111" stroke-width="0.7" />
<rect x="378.90" y="331.30" width="15.30" height="7.90" fill="#fff" stroke="#111" stroke-width="1.3" />
<line x1="381.60" y1="331.30" x2="381.60" y2="339.20" stroke="#111" stroke-width="0.8" />
<line x1="391.60" y1="331.30" x2="391.60" y2="339.20" stroke="#111" stroke-width="0.8" />
<path d="M378.4 344.3 L394.2 344.3 L394.2 355.5 Q386.3 361 378.4 355.5 Z" fill="#fff" stroke="#111" stroke-width="1.2" />
<rect x="330.70" y="364.60" width="11.80" height="15.00" fill="#fff" stroke="#111" stroke-width="1.4" />
<path d="M342 357 L346.5 360 L346.5 365 L342 366 Z" fill="#111"/>
<circle cx="336.4" cy="358.6" r="6.9" fill="#fff" stroke="#111" stroke-width="1.4"/>
<circle cx="336.4" cy="358.6" r="5.2" fill="none" stroke="#111" stroke-width="0.8"/>
<path d="M332.2 358.6 L334.3 355 L338.5 355 L340.6 358.6 L338.5 362.2 L334.3 362.2 Z" fill="#1a1a1a"/>
<path d="M333.8 358.6 L335 357 L337.8 357 L339 358.6 L337.8 360.2 L335 360.2 Z" fill="none" stroke="#fff" stroke-width="0.7"/>
<line x1="336.40" y1="347.00" x2="336.40" y2="388.00" stroke="#333" stroke-width="0.6" stroke-dasharray="23 3.5 2.7 3.5"/>
<line x1="330.70" y1="368.50" x2="342.50" y2="368.50" stroke="#111" stroke-width="0.8" />
<rect x="342.30" y="365.00" width="8.30" height="12.90" fill="#fff" stroke="#111" stroke-width="1.2" />
<path d="M351.8 358.2 L356.6 358.2 Q357.9 358.2 357.9 360 L357.9 382.2 Q357.9 384 356.6 384 L351.8 384 Q350.4 384 350.4 382.2 L350.4 360 Q350.4 358.2 351.8 358.2 Z" fill="#fff" stroke="#111" stroke-width="1.3" />
<line x1="350.40" y1="364.20" x2="357.90" y2="364.20" stroke="#111" stroke-width="0.8" />
<line x1="350.40" y1="378.00" x2="357.90" y2="378.00" stroke="#111" stroke-width="0.8" />
<rect x="357.90" y="357.60" width="16.80" height="27.40" fill="#fff" stroke="#111" stroke-width="1.4" />
<path d="M362 360 L370 360 Q371.5 360 371.5 361.5 L371.5 381.5 Q371.5 383 370 383 L362 383 Q360.5 383 360.5 381.5 L360.5 361.5 Q360.5 360 362 360 Z" fill="#fff" stroke="#111" stroke-width="1.7" />
<line x1="364.00" y1="362.00" x2="364.00" y2="381.00" stroke="#111" stroke-width="0.7" />
<rect x="374.70" y="357.60" width="23.20" height="27.40" fill="#fff" stroke="#111" stroke-width="1.4" />
<path d="M374.7 362 L379.5 362 Q381 367 378.5 371 Q381 375 379 379 L374.7 381" fill="none" stroke="#111" stroke-width="0.9" />
<path d="M376.5 381 L381 379.5 M376 384 L380 381.5" fill="none" stroke="#111" stroke-width="0.8" />
<line x1="390.50" y1="357.60" x2="390.50" y2="385.00" stroke="#111" stroke-width="0.9" />
<rect x="397.90" y="355.50" width="5.30" height="31.60" fill="#fff" stroke="#111" stroke-width="1.3" />
<line x1="400.50" y1="355.50" x2="400.50" y2="387.10" stroke="#111" stroke-width="0.7" />
<rect x="403.20" y="357.60" width="10.00" height="27.40" fill="#fff" stroke="#111" stroke-width="1.3" />
<path d="M406.5 360.5 L410.5 360.5 Q411.8 360.5 411.8 362 L411.8 380.5 Q411.8 382 410.5 382 L406.5 382 Q405 382 405 380.5 L405 362 Q405 360.5 406.5 360.5 Z" fill="#fff" stroke="#111" stroke-width="1.5" />
<path d="M413.2 356.8 L445 356.8 M448.5 356.8 L472.3 356.8 M413.2 383.9 L445 383.9 M448.5 383.9 L472.3 383.9" fill="none" stroke="#111" stroke-width="1.5" />
<path d="M444.5 357 C448.5 364, 441.5 376, 445.5 384 M448 357 C452 364, 445 376, 449 384" fill="none" stroke="#111" stroke-width="0.7" />
<path d="M472.3 351 L477 351 Q479 351 479 353 L479 387.5 Q479 389.5 477 389.5 L472.3 389.5 Z" fill="#fff" stroke="#111" stroke-width="1.3"/>
<line x1="290.00" y1="371.50" x2="665.00" y2="371.50" stroke="#333" stroke-width="0.6" stroke-dasharray="23 3.5 2.7 3.5"/>
<line x1="386.50" y1="326.00" x2="386.50" y2="366.00" stroke="#333" stroke-width="0.6" stroke-dasharray="23 3.5 2.7 3.5"/>
<g transform="translate(339.5 417) scale(0.5963 1)"><text x="0" y="0" font-size="19" fill="#2a2a2a" textLength="25.16" lengthAdjust="spacing">10</text></g>
<path d="M334.00 419.50 L358.60 419.50 L375.70 381.40" fill="none" stroke="#444" stroke-width="0.7" />
<path d="M358.60 419.50 L400.00 382.90" fill="none" stroke="#444" stroke-width="0.7" />
<path d="M479 363.8 L503 363.8 M506.5 363.8 L582 363.8 M585.5 363.8 L617.8 363.8" fill="none" stroke="#111" stroke-width="1.5" />
<path d="M479 366.0 L503 366.0 M506.5 366.0 L582 366.0 M585.5 366.0 L617.8 366.0" fill="none" stroke="#111" stroke-width="0.9" />
<path d="M479 378.3 L503 378.3 M506.5 378.3 L582 378.3 M585.5 378.3 L617.8 378.3" fill="none" stroke="#111" stroke-width="1.5" />
<path d="M479 376.1 L503 376.1 M506.5 376.1 L582 376.1 M585.5 376.1 L617.8 376.1" fill="none" stroke="#111" stroke-width="0.9" />
<path d="M503 363 L503 366.5 L501.2 369 L504.8 371 L501.2 373.5 L503 376 L503 379" fill="none" stroke="#111" stroke-width="0.8" />
<path d="M506.5 363 L506.5 366.5 L504.7 369 L508.3 371 L504.7 373.5 L506.5 376 L506.5 379" fill="none" stroke="#111" stroke-width="0.8" />
<path d="M582 363 L582 366.5 L580.2 369 L583.8 371 L580.2 373.5 L582 376 L582 379" fill="none" stroke="#111" stroke-width="0.8" />
<path d="M585.5 363 L585.5 366.5 L583.7 369 L587.3 371 L583.7 373.5 L585.5 376 L585.5 379" fill="none" stroke="#111" stroke-width="0.8" />
<path d="M528.5 361 L555.6 361 Q557.6 361 557.6 363 L557.6 380 Q557.6 382 555.6 382 L528.5 382 Q526.5 382 526.5 380 L526.5 363 Q526.5 361 528.5 361 Z" fill="#fff" stroke="#111" stroke-width="1.5" />
<rect x="527.30" y="361.80" width="29.50" height="3.40" fill="url(#hb)" stroke="#111" stroke-width="0" />
<rect x="527.30" y="377.60" width="29.50" height="3.60" fill="url(#hb)" stroke="#111" stroke-width="0" />
<line x1="526.50" y1="365.40" x2="557.60" y2="365.40" stroke="#111" stroke-width="0.9" />
<line x1="526.50" y1="377.40" x2="557.60" y2="377.40" stroke="#111" stroke-width="0.9" />
<rect x="529.90" y="368.00" width="24.10" height="7.90" fill="#fff" stroke="#111" stroke-width="1.2" />
<line x1="529.90" y1="366.20" x2="529.90" y2="376.60" stroke="#111" stroke-width="1.3" />
<text class="big" x="548.5" y="328" font-size="19" fill="#2a2a2a" textLength="8.5" lengthAdjust="spacingAndGlyphs">8</text>
<path d="M544.80 330.30 L561.70 330.30 L536.40 361.70" fill="none" stroke="#444" stroke-width="0.7" />
<path d="M617.8 361.7 L640 361.7 L640 379 Q640 381.7 637 381.7 L620.8 381.7 Q617.8 381.7 617.8 379 Z" fill="#fff" stroke="#111" stroke-width="1.4" />
<path d="M620.6 355.6 L636.7 355.6 L636.7 361.7 L620.6 361.7 Z" fill="#fff" stroke="#111" stroke-width="1.2" />
<rect x="610.00" y="346.70" width="36.70" height="8.90" fill="#fff" stroke="#111" stroke-width="1.4" />
<rect x="611.5" y="348.5" width="1.6" height="6" fill="#222"/><rect x="643.6" y="348.5" width="1.6" height="6" fill="#222"/>
<circle cx="615.5" cy="352" r="1.5" fill="none" stroke="#111" stroke-width="0.6"/>
<circle cx="619" cy="352" r="1.5" fill="none" stroke="#111" stroke-width="0.6"/>
<circle cx="638" cy="352" r="1.5" fill="none" stroke="#111" stroke-width="0.6"/>
<circle cx="641.5" cy="352" r="1.5" fill="none" stroke="#111" stroke-width="0.6"/>
<rect x="620.60" y="346.70" width="16.10" height="8.90" fill="#fff" stroke="#111" stroke-width="1.0" />
<path d="M613.3 346.7 L613.3 316 A12 12 0 0 1 625.3 303.9 L646.1 303.9 M643.9 334.4 L643.9 346.7" fill="none" stroke="#111" stroke-width="1.4" />
<path d="M618.9 346.7 L618.9 338 C625 336, 631 340, 637.8 338 L637.8 346.7" fill="none" stroke="#111" stroke-width="1.0" />
<path d="M614 340 L619 340 L619 346 L614 346 Z M637.5 340 L643 340 L643 346 L637.5 346 Z" fill="url(#xh)"/>
<line x1="626.00" y1="322.00" x2="643.00" y2="338.00" stroke="#111" stroke-width="1.3" />
<rect x="646.70" y="301.10" width="13.30" height="36.10" fill="#fff" stroke="#111" stroke-width="1.7" />
<rect x="647.50" y="302.00" width="11.70" height="4.00" fill="url(#xh)" stroke="#111" stroke-width="0" />
<rect x="647.50" y="332.30" width="11.70" height="4.10" fill="url(#xh)" stroke="#111" stroke-width="0" />
<rect x="655.50" y="302.00" width="3.70" height="34.40" fill="url(#xh)" stroke="#111" stroke-width="0" />
<path d="M647 306 L655.5 306 L655.5 332.3 L647 332.3" fill="none" stroke="#111" stroke-width="1.0" />
<line x1="650.80" y1="309.00" x2="650.80" y2="329.50" stroke="#111" stroke-width="1.8" />
<path d="M652.5 312 Q656 315 653.5 319 M652.5 326 Q656 323 653.5 319" fill="none" stroke="#111" stroke-width="0.9" />
<path d="M637 311 L646.7 311 M637 328 L646.7 328 M637 311 L637 328" fill="none" stroke="#111" stroke-width="1.3" />
<path d="M630.5 305 L646.5 305 L646.5 311 L637 311 L634 308 Z M630.5 334 L646.5 334 L646.5 328 L637 328 L634 331 Z" fill="url(#xh)"/>
<line x1="628.30" y1="295.00" x2="628.30" y2="392.00" stroke="#333" stroke-width="0.6" stroke-dasharray="23 3.5 2.7 3.5"/>
<line x1="605.00" y1="319.10" x2="664.00" y2="319.10" stroke="#333" stroke-width="0.6" stroke-dasharray="23 3.5 2.7 3.5"/>
<g transform="translate(616.5 281.6) scale(0.5963 1)"><text x="0" y="0" font-size="19" fill="#2a2a2a" textLength="25.16" lengthAdjust="spacing">10</text></g>
<path d="M612.60 283.00 L638.80 283.00 L649.60 303.00" fill="none" stroke="#444" stroke-width="0.7" />
<text class="big" x="585.5" y="328" font-size="19" fill="#2a2a2a" textLength="8.5" lengthAdjust="spacingAndGlyphs">7</text>
<path d="M581.80 330.30 L598.70 330.30 L614.00 345.00" fill="none" stroke="#444" stroke-width="0.7" />
<g transform="translate(430.5 432) scale(0.6315 1)"><text x="0" y="0" font-size="19" fill="#2a2a2a" textLength="42.75" lengthAdjust="spacing">А–А</text></g>
<circle cx="441.1" cy="567" r="64" fill="url(#hs)" stroke="#111" stroke-width="1.5"/>
<path d="M428.40 516.06 L428.40 533.30 A12.7 12.7 0 0 0 453.80 533.30 L453.80 516.06 A52.5 52.5 0 0 1 491.91 553.80 L438.10 553.80 A13.2 13.2 0 0 0 438.10 580.20 L491.91 580.20 A52.5 52.5 0 1 1 428.40 516.06 Z" fill="#fff" stroke="#111" stroke-width="1.5" />
<path d="M396 530 Q400 523 408 520 Q416 512 421.5 509.4 Q424 520 420.6 527.5 Q412 534 396 530 Z" fill="#fff" stroke="#111" stroke-width="0.8" />
<path d="M459.9 616.2 Q459 604 467 600 Q474 598 480.6 601.7 L476 610 Z" fill="#fff" stroke="#111" stroke-width="0.8" />
<path d="M410.90 522.30 L403.53 513.61 Q397.50 506.50 389.95 511.97 L311.10 569.13 Q303.00 575.00 308.87 583.09 L385.63 688.91 Q391.50 697.00 399.46 690.94 L474.41 633.89 Q481.50 628.50 477.56 620.51 L472.75 610.75" fill="none" stroke="#111" stroke-width="11.6" stroke-linejoin="round"/>
<path d="M410.90 522.30 L403.53 513.61 Q397.50 506.50 389.95 511.97 L311.10 569.13 Q303.00 575.00 308.87 583.09 L385.63 688.91 Q391.50 697.00 399.46 690.94 L474.41 633.89 Q481.50 628.50 477.56 620.51 L472.75 610.75" fill="none" stroke="#fff" stroke-width="8.6" stroke-linejoin="round"/>
<path d="M410.90 522.30 L403.53 513.61 Q397.50 506.50 389.95 511.97 L311.10 569.13 Q303.00 575.00 308.87 583.09 L385.63 688.91 Q391.50 697.00 399.46 690.94 L474.41 633.89 Q481.50 628.50 477.56 620.51 L472.75 610.75" fill="none" stroke="#555" stroke-width="0.55" stroke-dasharray="23 3.5 2.7 3.5"/>
<line x1="406.48" y1="526.05" x2="415.32" y2="518.55" stroke="#111" stroke-width="1.5" />
<line x1="477.95" y1="608.19" x2="467.55" y2="613.31" stroke="#111" stroke-width="1.5" />
<g transform="translate(341.8 546.7) rotate(-35.9)"><rect x="-1.8" y="-7" width="3.6" height="14" fill="#fff"/><path d="M-1.8 -5.8 C-4 -2, 0.5 2, -1.8 5.8 M1.8 -5.8 C-0.4 -2, 4.1 2, 1.8 5.8" fill="none" stroke="#333" stroke-width="0.7"/></g>
<g transform="translate(426.8 670.2) rotate(-37.3)"><rect x="-1.8" y="-7" width="3.6" height="14" fill="#fff"/><path d="M-1.8 -5.8 C-4 -2, 0.5 2, -1.8 5.8 M1.8 -5.8 C-0.4 -2, 4.1 2, 1.8 5.8" fill="none" stroke="#333" stroke-width="0.7"/></g>
<path d="M435 500 L435 531 A6.5 6.5 0 0 0 448 531 L448 500" fill="#fff" stroke="#111" stroke-width="1.2" />
<rect x="436.20" y="500.00" width="11.10" height="31.00" fill="#fff" stroke="#111" stroke-width="1.3" />
<path d="M436.2 531 L441.7 537.5 L447.3 531" fill="#fff" stroke="#111" stroke-width="1.2" />
<line x1="436.20" y1="528.00" x2="447.30" y2="528.00" stroke="#111" stroke-width="0.8" />
<path d="M511.1 560.5 L441 560.5 A6 6 0 0 0 441 572.5 L511.1 572.5" fill="#fff" stroke="#111" stroke-width="1.2" />
<rect x="440.00" y="561.00" width="48.00" height="11.00" fill="#fff" stroke="#111" stroke-width="1.2" />
<path d="M440 561 L434.5 566.5 L440 572" fill="#fff" stroke="#111" stroke-width="1.1" />
<rect x="487.80" y="559.90" width="16.20" height="13.80" fill="#fff" stroke="#111" stroke-width="1.4" />
<rect x="505.30" y="555.60" width="7.20" height="22.30" fill="#fff" stroke="#111" stroke-width="1.5" />
<rect x="512.50" y="557.40" width="9.60" height="18.10" fill="#fff" stroke="#111" stroke-width="1.3" />
<path d="M520.9 556.8 L536.6 556.8 L536.6 576.7 L520.9 576.7 Z" fill="#fff" stroke="#111" stroke-width="1.5" />
<path d="M524 558 Q520.5 562 521 566.5 Q520.5 571 524 575.5" fill="none" stroke="#111" stroke-width="1.1" />
<rect x="520.8" y="563" width="1.6" height="7" fill="#111"/>
<rect x="524.50" y="549.00" width="9.70" height="7.80" fill="#fff" stroke="#111" stroke-width="1.3" />
<line x1="529.30" y1="549.00" x2="529.30" y2="556.80" stroke="#111" stroke-width="0.8" />
<line x1="529.30" y1="545.00" x2="529.30" y2="583.00" stroke="#333" stroke-width="0.6" stroke-dasharray="23 3.5 2.7 3.5"/>
<path d="M536.6 558 L555.2 558 M536.6 575.5 L555.2 575.5" fill="none" stroke="#111" stroke-width="1.4" />
<path d="M555.2 557 C556.8 562, 553.8 570, 555.2 576.5" fill="none" stroke="#111" stroke-width="0.8" />
<rect x="432.70" y="498.20" width="17.60" height="5.40" fill="#fff" stroke="#111" stroke-width="1.4" />
<line x1="441.30" y1="498.20" x2="441.30" y2="503.60" stroke="#111" stroke-width="0.9" />
<rect x="434.20" y="494.10" width="14.60" height="4.10" fill="#fff" stroke="#111" stroke-width="1.2" />
<path d="M432 491.5 L450.3 491.5 L450.3 493 Q450.3 494.3 448.8 494.3 L434 494.3 Q432 494.3 432 493 Z" fill="#fff" stroke="#111" stroke-width="1.1" />
<rect x="431.50" y="476.80" width="18.80" height="14.70" fill="#fff" stroke="#111" stroke-width="1.5" />
<rect x="430.8" y="477.5" width="1.8" height="13.5" fill="#111"/>
<rect x="424.00" y="479.40" width="7.50" height="9.10" fill="#fff" stroke="#111" stroke-width="1.3" />
<line x1="424.00" y1="484.00" x2="431.50" y2="484.00" stroke="#111" stroke-width="0.8" />
<line x1="420.00" y1="484.00" x2="454.00" y2="484.00" stroke="#333" stroke-width="0.6" stroke-dasharray="23 3.5 2.7 3.5"/>
<path d="M435.3 476.8 L435.3 462.3 M448.1 476.8 L448.1 462.3" fill="none" stroke="#111" stroke-width="1.4" />
<path d="M435.3 462.3 Q438.5 460 441.7 462 Q445 464 448.1 462.3" fill="none" stroke="#111" stroke-width="0.8" />
<line x1="441.10" y1="450.00" x2="441.10" y2="640.00" stroke="#333" stroke-width="0.6" stroke-dasharray="23 3.5 2.7 3.5"/>
<line x1="368.00" y1="566.50" x2="520.00" y2="566.50" stroke="#333" stroke-width="0.6" stroke-dasharray="23 3.5 2.7 3.5"/>
<line x1="441.10" y1="567.00" x2="391.00" y2="495.00" stroke="#444" stroke-width="0.5" stroke-dasharray="23 3.5 2.7 3.5"/>
<line x1="441.10" y1="567.00" x2="483.00" y2="625.00" stroke="#444" stroke-width="0.5" stroke-dasharray="23 3.5 2.7 3.5"/>
<text class="big" x="387.5" y="481" font-size="19" fill="#2a2a2a" textLength="8" lengthAdjust="spacingAndGlyphs">8</text>
<path d="M383.00 483.80 L401.30 483.80 L431.40 501.40" fill="none" stroke="#444" stroke-width="0.7" />
<g transform="translate(473.8 457.6) scale(0.6246 1)"><text x="0" y="0" font-size="14.4" fill="#222" textLength="130.00" lengthAdjust="spacing">Рукав напорный</text></g>
<path d="M444.30 469.70 L473.80 461.00 L575.30 461.00" fill="none" stroke="#444" stroke-width="0.7" />
<circle cx="444.3" cy="469.7" r="1.1" fill="#111" stroke="#111" stroke-width="0.5"/>
<g transform="translate(515.5 532.1) scale(0.6149 1)"><text x="0" y="0" font-size="14.6" fill="#222" textLength="166.03" lengthAdjust="spacing">Рукав всасывающий</text></g>
<path d="M515.50 538.40 L641.00 538.40 L545.30 563.40" fill="none" stroke="#444" stroke-width="0.7" />
<circle cx="545.3" cy="563.4" r="0.8" fill="#222" stroke="#111" stroke-width="0.5"/>
<path d="M207.8 728.9 L228.5 728.9 M232.5 728.9 C272.1 728.9 323.5 760.6 323.5 812.6" fill="none" stroke="#111" stroke-width="1.5" />
<path d="M207.8 747.4 L228.5 747.4 M232.5 747.4 C272.7 747.4 305.3 765.6 305.3 812.6" fill="none" stroke="#111" stroke-width="1.5" />
<path d="M207.8 738.2 L232 738.2 C272.4 738.2 314.4 763 314.4 812.6 L314.4 900" fill="none" stroke="#444" stroke-width="0.6" stroke-dasharray="23 3.5 2.7 3.5"/>
<path d="M228.5 728 C230.5 734, 226.5 742, 228.5 748" fill="none" stroke="#111" stroke-width="0.8" />
<path d="M232.5 728 C234.5 734, 230.5 742, 232.5 748" fill="none" stroke="#111" stroke-width="0.8" />
<path d="M304 812.6 L324.2 812.6 L324.2 831.6 L304 831.6 Z" fill="#fff" stroke="#111" stroke-width="1.4" />
<line x1="305.00" y1="813.40" x2="323.40" y2="813.40" stroke="#666" stroke-width="0.8" />
<line x1="305.00" y1="824.70" x2="323.40" y2="824.70" stroke="#666" stroke-width="0.8" />
<path d="M306.3 831.6 Q306.3 838.5 300 842 L268.2 861.4" fill="none" stroke="#111" stroke-width="1.3" />
<path d="M321.6 831.6 Q321.6 838.5 328 842 L360 861.4" fill="none" stroke="#111" stroke-width="1.3" />
<line x1="307.00" y1="837.90" x2="321.00" y2="837.90" stroke="#666" stroke-width="0.8" />
<path d="M250.2 866.5 Q250.2 861.4 255.5 861.4 L372.8 861.4 Q378 861.4 378 866.5 L378 894.8 L364.1 894.8 L364.1 884.7 L353.9 884.7 L353.9 894.8 L321.2 894.8 L321.2 884.7 L307.2 884.7 L307.2 894.8 L274.3 894.8 L274.3 884.7 L264.4 884.7 L264.4 894.8 L250.2 894.8 Z" fill="#fff" stroke="#111" stroke-width="1.5" />
<line x1="269.30" y1="880.00" x2="269.30" y2="900.00" stroke="#333" stroke-width="0.6" stroke-dasharray="23 3.5 2.7 3.5"/>
<line x1="359.00" y1="880.00" x2="359.00" y2="900.00" stroke="#333" stroke-width="0.6" stroke-dasharray="23 3.5 2.7 3.5"/>
<line x1="314.20" y1="812.00" x2="314.20" y2="900.00" stroke="#333" stroke-width="0.6" stroke-dasharray="23 3.5 2.7 3.5"/>
<text class="big" x="312.5" y="730" font-size="19" fill="#2a2a2a" textLength="8" lengthAdjust="spacingAndGlyphs">A</text>
<line x1="308.40" y1="722.90" x2="308.40" y2="732.00" stroke="#111" stroke-width="0.8" />
<path d="M307 728.5 L308.4 736.8 L309.8 728.5 Z" fill="#111" stroke="#111" stroke-width="0.4" />
<line x1="300.70" y1="738.00" x2="311.80" y2="738.00" stroke="#111" stroke-width="1.7" />
</svg>
</body></html>
